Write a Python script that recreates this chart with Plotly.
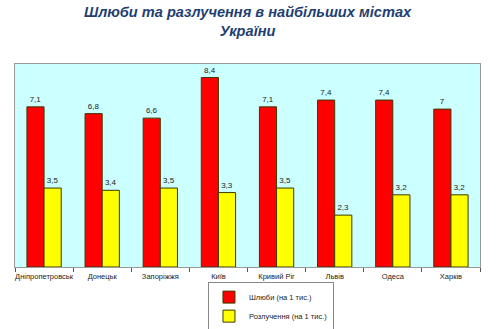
import plotly.graph_objects as go

cities = ["Дніпропетровськ", "Донецьк", "Запоріжжя", "Київ", "Кривий Ріг", "Львів", "Одеса", "Харків"]
marriages = [7.1, 6.8, 6.6, 8.4, 7.1, 7.4, 7.4, 7.0]
divorces = [3.5, 3.4, 3.5, 3.3, 3.5, 2.3, 3.2, 3.2]
series_names = ["Шлюби (на 1 тис.)", "Розлучення (на 1 тис.)"]
title_text = "Шлюби та разлучення в найбільших містах<br>України"

def fmt(v):
    return f"{v:g}".replace(".", ",")

fig = go.Figure()
fig.add_trace(go.Bar(
    x=cities, y=marriages, name=series_names[0],
    marker=dict(color="#FF0000", line=dict(color="#3a3a00", width=1)),
    text=[fmt(v) for v in marriages], textposition="outside",
    textfont=dict(size=8, color="#222222"), cliponaxis=False,
))
fig.add_trace(go.Bar(
    x=cities, y=divorces, name=series_names[1],
    marker=dict(color="#FFFF00", line=dict(color="#3a3a00", width=1)),
    text=[fmt(v) for v in divorces], textposition="outside",
    textfont=dict(size=8, color="#222222"), cliponaxis=False,
))

fig.update_layout(
    width=499, height=329,
    margin=dict(l=15, r=19, t=64, b=62, autoexpand=False),
    paper_bgcolor="white",
    plot_bgcolor="#CCFFFF",
    barmode="group",
    bargap=0.41,
    bargroupgap=0,
    font=dict(family="Liberation Sans, Arial, sans-serif", size=8, color="#222222"),
    showlegend=True,
    legend=dict(
        orientation="v", x=0.415, xanchor="left", y=-0.072, yanchor="top",
        bordercolor="#888888", borderwidth=1, bgcolor="white",
        font=dict(size=7.5, color="#222222"),
        itemwidth=30, tracegroupgap=0,
    ),
    annotations=[dict(
        text="<b><i>" + title_text + "</i></b>",
        x=0.5, xref="paper", xanchor="center",
        y=1, yref="paper", yanchor="bottom", yshift=23,
        showarrow=False, align="center",
        font=dict(size=14.6, color="#1F3F73", family="Liberation Sans, Arial, sans-serif"),
    )],
)
fig.update_xaxes(
    showline=True, linecolor="#999999", linewidth=1, mirror=True,
    ticks="outside", tickson="boundaries", ticklen=4, tickcolor="#555555",
    tickangle=0, ticklabelstandoff=2, tickfont=dict(size=7.5, color="#222222"),
)
fig.update_yaxes(
    range=[0, 9], showgrid=False, showticklabels=False, zeroline=False,
    showline=True, linecolor="#999999", linewidth=1, mirror=True,
)

fig.write_html("out.html")
